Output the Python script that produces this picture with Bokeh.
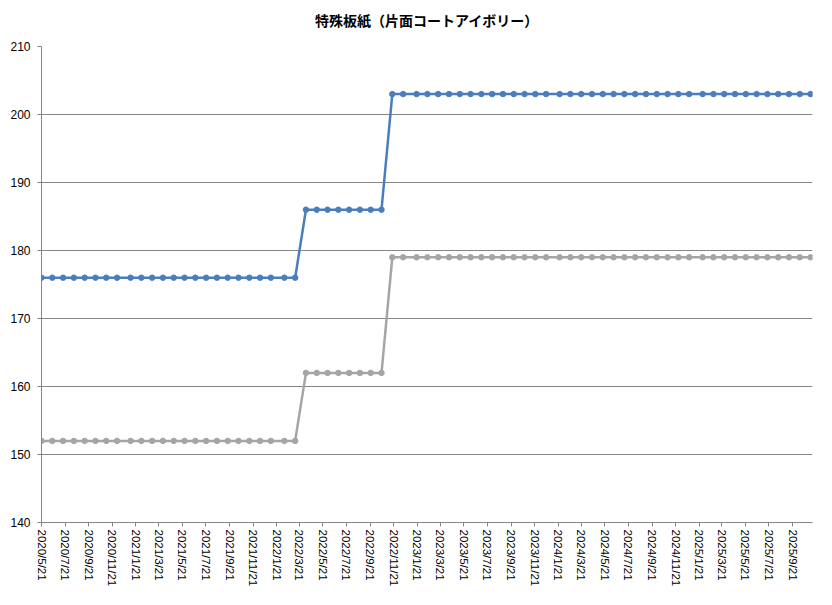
from datetime import datetime
from bokeh.plotting import figure
from bokeh.models import Range1d, FixedTicker, CustomJSTickFormatter, Title
from bokeh.embed import file_html
from bokeh.resources import INLINE

title_text = "特殊板紙（片面コートアイボリー）"

dates = [
    "2020/5/21", "2020/6/18", "2020/7/16", "2020/8/13", "2020/9/10", "2020/10/8",
    "2020/11/5", "2020/12/3",
    "2021/1/7", "2021/2/4", "2021/3/4", "2021/4/1", "2021/4/29", "2021/5/27",
    "2021/6/24", "2021/7/22", "2021/8/19", "2021/9/16", "2021/10/14", "2021/11/11",
    "2021/12/9",
    "2022/1/6", "2022/2/10", "2022/3/10",
    "2022/4/7", "2022/5/5", "2022/6/2", "2022/6/30", "2022/7/28", "2022/8/25",
    "2022/9/22", "2022/10/20",
    "2022/11/17", "2022/12/15",
    "2023/1/19", "2023/2/16", "2023/3/16", "2023/4/13", "2023/5/11", "2023/6/8",
    "2023/7/6", "2023/8/3", "2023/8/31", "2023/9/28", "2023/10/26", "2023/11/23",
    "2023/12/21",
    "2024/1/25", "2024/2/22", "2024/3/21", "2024/4/18", "2024/5/16", "2024/6/13",
    "2024/7/11", "2024/8/8", "2024/9/5", "2024/10/3", "2024/10/31", "2024/11/28",
    "2024/12/26",
    "2025/1/30", "2025/2/27", "2025/3/27", "2025/4/24", "2025/5/22", "2025/6/19",
    "2025/7/17", "2025/8/14", "2025/9/11", "2025/10/9", "2025/11/6",
]

series_upper = [
    176, 176, 176, 176, 176, 176, 176, 176,
    176, 176, 176, 176, 176, 176, 176, 176, 176, 176, 176, 176, 176,
    176, 176, 176,
    186, 186, 186, 186, 186, 186, 186, 186,
    203, 203,
    203, 203, 203, 203, 203, 203, 203, 203, 203, 203, 203, 203, 203,
    203, 203, 203, 203, 203, 203, 203, 203, 203, 203, 203, 203, 203,
    203, 203, 203, 203, 203, 203, 203, 203, 203, 203, 203,
]

series_lower = [
    152, 152, 152, 152, 152, 152, 152, 152,
    152, 152, 152, 152, 152, 152, 152, 152, 152, 152, 152, 152, 152,
    152, 152, 152,
    162, 162, 162, 162, 162, 162, 162, 162,
    179, 179,
    179, 179, 179, 179, 179, 179, 179, 179, 179, 179, 179, 179, 179,
    179, 179, 179, 179, 179, 179, 179, 179, 179, 179, 179, 179, 179,
    179, 179, 179, 179, 179, 179, 179, 179, 179, 179, 179,
]

tick_labels = [
    "2020/5/21", "2020/7/21", "2020/9/21", "2020/11/21",
    "2021/1/21", "2021/3/21", "2021/5/21", "2021/7/21", "2021/9/21", "2021/11/21",
    "2022/1/21", "2022/3/21", "2022/5/21", "2022/7/21", "2022/9/21", "2022/11/21",
    "2023/1/21", "2023/3/21", "2023/5/21", "2023/7/21", "2023/9/21", "2023/11/21",
    "2024/1/21", "2024/3/21", "2024/5/21", "2024/7/21", "2024/9/21", "2024/11/21",
    "2025/1/21", "2025/3/21", "2025/5/21", "2025/7/21", "2025/9/21",
]

y_ticks = [140, 150, 160, 170, 180, 190, 200, 210]
x_start = "2020/5/21"
x_end = "2025/11/11"

BLUE = "#4a7ebb"
GRAY = "#a5a5a5"
AXIS_GRAY = "#868686"
FONT = "Liberation Sans"


def to_dt(s):
    y, m, d = (int(v) for v in s.split("/"))
    return datetime(y, m, d)


def to_ms(s):
    return (to_dt(s) - datetime(1970, 1, 1)).total_seconds() * 1000.0


xs = [to_dt(s) for s in dates]

p = figure(
    width=816, height=589,
    title=None,
    x_axis_type="datetime",
    x_range=Range1d(to_dt(x_start), to_dt(x_end)),
    y_range=Range1d(y_ticks[0], y_ticks[-1]),
    output_backend="svg", toolbar_location=None,
    min_border_left=41, min_border_right=4,
    min_border_top=46, min_border_bottom=66,
)

# spacer (nearest the frame), then the real title further out
p.add_layout(Title(text=" ", text_font_size="13px", standoff=0), "above")
p.add_layout(Title(
    text=title_text, align="center", offset=-10, standoff=0,
    text_font="Noto Sans CJK JP", text_font_size="14px",
    text_font_style="bold", text_color="#000000",
), "above")

p.outline_line_color = None
p.background_fill_color = "white"
p.border_fill_color = "white"

p.xgrid.grid_line_color = None
p.ygrid.grid_line_color = AXIS_GRAY
p.ygrid.grid_line_width = 1

p.yaxis.ticker = FixedTicker(ticks=y_ticks)
p.xaxis.ticker = FixedTicker(ticks=[to_ms(s) for s in tick_labels])
p.xaxis.formatter = CustomJSTickFormatter(code="""
const d = new Date(tick);
return d.getUTCFullYear() + '/' + (d.getUTCMonth() + 1) + '/' + d.getUTCDate();
""")
p.xaxis.major_label_orientation = "vertical"

for ax in (p.xaxis, p.yaxis):
    ax.axis_line_color = AXIS_GRAY
    ax.axis_line_width = 1
    ax.major_tick_line_color = AXIS_GRAY
    ax.major_tick_out = 4
    ax.major_tick_in = 0
    ax.minor_tick_line_color = None
    ax.major_label_text_font = FONT
    ax.major_label_text_color = "#000000"

p.yaxis.major_label_text_font_size = "12px"
p.xaxis.major_label_text_font_size = "11.5px"
p.xaxis.major_label_standoff = 3
p.yaxis.major_label_standoff = 7

p.line(xs, series_lower, line_color=GRAY, line_width=2.5)
p.scatter(xs, series_lower, size=5.5, fill_color=GRAY, line_color=GRAY)
p.line(xs, series_upper, line_color=BLUE, line_width=2.5)
p.scatter(xs, series_upper, size=5.5, fill_color=BLUE, line_color=BLUE)

open("out.html", "w").write(file_html(p, INLINE))
